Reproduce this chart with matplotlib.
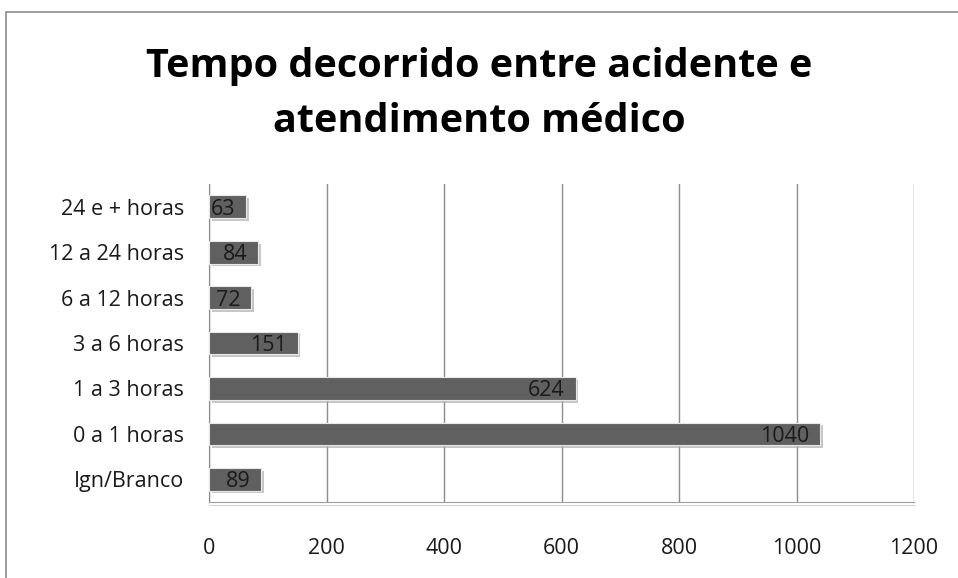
import matplotlib.pyplot as plt
import matplotlib.patheffects as pe
from matplotlib.patches import Rectangle

categories = ['Ign/Branco', '0 a 1 horas', '1 a 3 horas', '3 a 6 horas',
              '6 a 12 horas', '12 a 24 horas', '24 e + horas']
values = [89, 1040, 624, 151, 72, 84, 63]
x_ticks = [0, 200, 400, 600, 800, 1000, 1200]

plt.rcParams['font.family'] = ['Open Sans', 'DejaVu Sans']

fig = plt.figure(figsize=(9.58, 5.78), dpi=100)
fig.patch.set_facecolor('white')

# chart frame
fig.patches.append(Rectangle((6 / 958, -0.05), 1.1, 1 - 12 / 578 + 0.05,
                             transform=fig.transFigure, fill=False,
                             edgecolor='#8c8c8c', linewidth=1.2))

ax = fig.add_axes([209 / 958, 1 - 502 / 578, (914 - 209) / 958, (502 - 184) / 578])

bars = ax.barh(range(len(categories)), values, height=0.5, color='#606060',
               edgecolor='#e8e8e8', linewidth=0.8, zorder=3)
for b in bars:
    b.set_path_effects([pe.SimplePatchShadow(offset=(2, -2), shadow_rgbFace='#b0b0b0', alpha=0.7),
                        pe.Normal()])

# value labels, inside end of each bar
for i, v in enumerate(values):
    ax.annotate(str(v), (v, i), xytext=(-8, 0), textcoords='offset points',
                ha='right', va='center_baseline', fontsize=15.5,
                color='#1a1a1a', zorder=4)

ax.set_xlim(0, 1200)
ax.set_ylim(-0.5, len(categories) - 0.5)
ax.set_xticks(x_ticks)
ax.set_xticklabels([str(t) for t in x_ticks])
ax.set_yticks(range(len(categories)))
ax.set_yticklabels(categories)
ax.tick_params(axis='x', length=0, pad=26, labelsize=15.5, labelcolor='#1a1a1a')
ax.tick_params(axis='y', length=0, pad=18, labelsize=15.5, labelcolor='#1a1a1a')

ax.grid(axis='x', color='#8c8c8c', linewidth=1.0, zorder=0)
ax.set_axisbelow(True)
for s in ['top', 'right']:
    ax.spines[s].set_visible(False)
ax.spines['left'].set_color('#8c8c8c')
ax.spines['bottom'].set_color('#a0a0a0')
ax.spines['bottom'].set_path_effects([pe.SimpleLineShadow(offset=(0, -2), shadow_color='#c8c8c8', alpha=0.8),
                                      pe.Normal()])

fig.text(0.5, 1 - 66 / 578, 'Tempo decorrido entre acidente e', ha='center', va='center',
         fontsize=28.5, fontweight='bold', color='black')
fig.text(0.5, 1 - 122 / 578, 'atendimento médico', ha='center', va='center',
         fontsize=28.5, fontweight='bold', color='black')

fig.savefig('out.png', dpi=100)
